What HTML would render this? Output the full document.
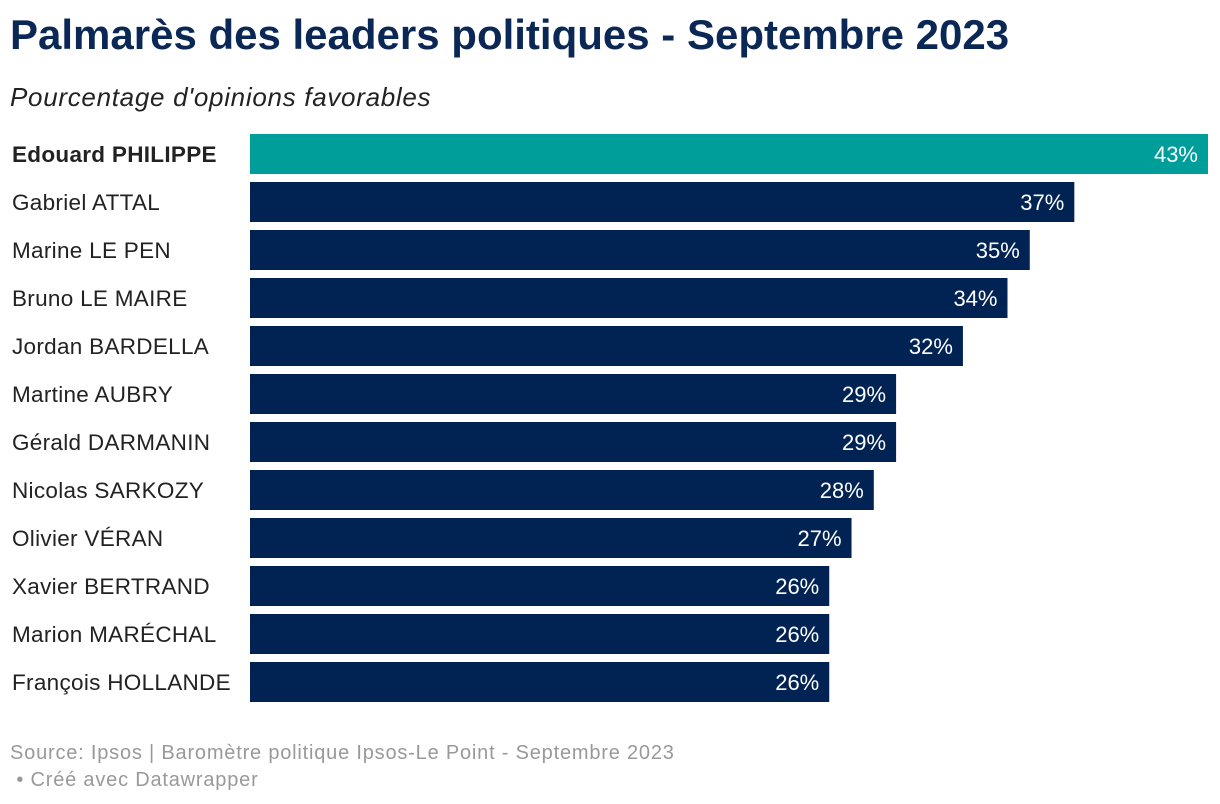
<!DOCTYPE html>
<html><head><meta charset="utf-8"><style>
body{margin:0;background:#fff;width:1220px;height:804px;overflow:hidden;font-family:"Liberation Sans",sans-serif;}
#title{position:absolute;left:10px;top:11px;font-size:42px;font-weight:bold;color:#0a2756;margin:0;letter-spacing:0px;white-space:nowrap}
#sub{position:absolute;left:10px;top:82px;font-size:26px;font-style:italic;color:#222;letter-spacing:0.7px}
#foot{position:absolute;left:10px;top:740px;font-size:20px;color:#999;line-height:27px;letter-spacing:0.8px}
</style></head><body>
<h1 id="title">Palmarès des leaders politiques - Septembre 2023</h1>
<div id="sub">Pourcentage d'opinions favorables</div>
<svg id="chart" width="1220" height="804" style="position:absolute;left:0;top:0"></svg>
<div id="foot">Source: Ipsos | Baromètre politique Ipsos-Le Point - Septembre 2023<br>&nbsp;• Créé avec Datawrapper</div>
<script>
const categories=["Edouard PHILIPPE","Gabriel ATTAL","Marine LE PEN","Bruno LE MAIRE","Jordan BARDELLA","Martine AUBRY","Gérald DARMANIN","Nicolas SARKOZY","Olivier VÉRAN","Xavier BERTRAND","Marion MARÉCHAL","François HOLLANDE"];
const values=[43,37,35,34,32,29,29,28,27,26,26,26];
const highlight=["Edouard PHILIPPE"];
const svg=document.getElementById('chart');
const NS="http://www.w3.org/2000/svg";
const x0=250,x1=1208,maxV=43;
const xs=v=>x0+(x1-x0)*v/maxV;
const ys=i=>134+i*48;
categories.forEach((c,i)=>{
  const hi=highlight.includes(c);
  const r=document.createElementNS(NS,'rect');
  r.setAttribute('x',x0);r.setAttribute('y',ys(i));
  r.setAttribute('width',xs(values[i])-x0);r.setAttribute('height',40);
  r.setAttribute('fill',hi?'#009e9b':'#012353');
  
  
  svg.appendChild(r);
  const l=document.createElementNS(NS,'text');
  l.setAttribute('x',12);l.setAttribute('y',ys(i)+28);
  l.setAttribute('font-size','22.5');l.setAttribute('fill','#222');
  l.setAttribute('letter-spacing','0.3');
  if(hi)l.setAttribute('font-weight','bold');
  l.textContent=c;
  
  
  svg.appendChild(l);
  const v=document.createElementNS(NS,'text');
  v.setAttribute('x',xs(values[i])-10);v.setAttribute('y',ys(i)+28);
  v.setAttribute('font-size','22');v.setAttribute('fill','#fff');
  v.setAttribute('text-anchor','end');
  v.textContent=values[i]+'%';
  
  
  svg.appendChild(v);
});
</script>
</body></html>
